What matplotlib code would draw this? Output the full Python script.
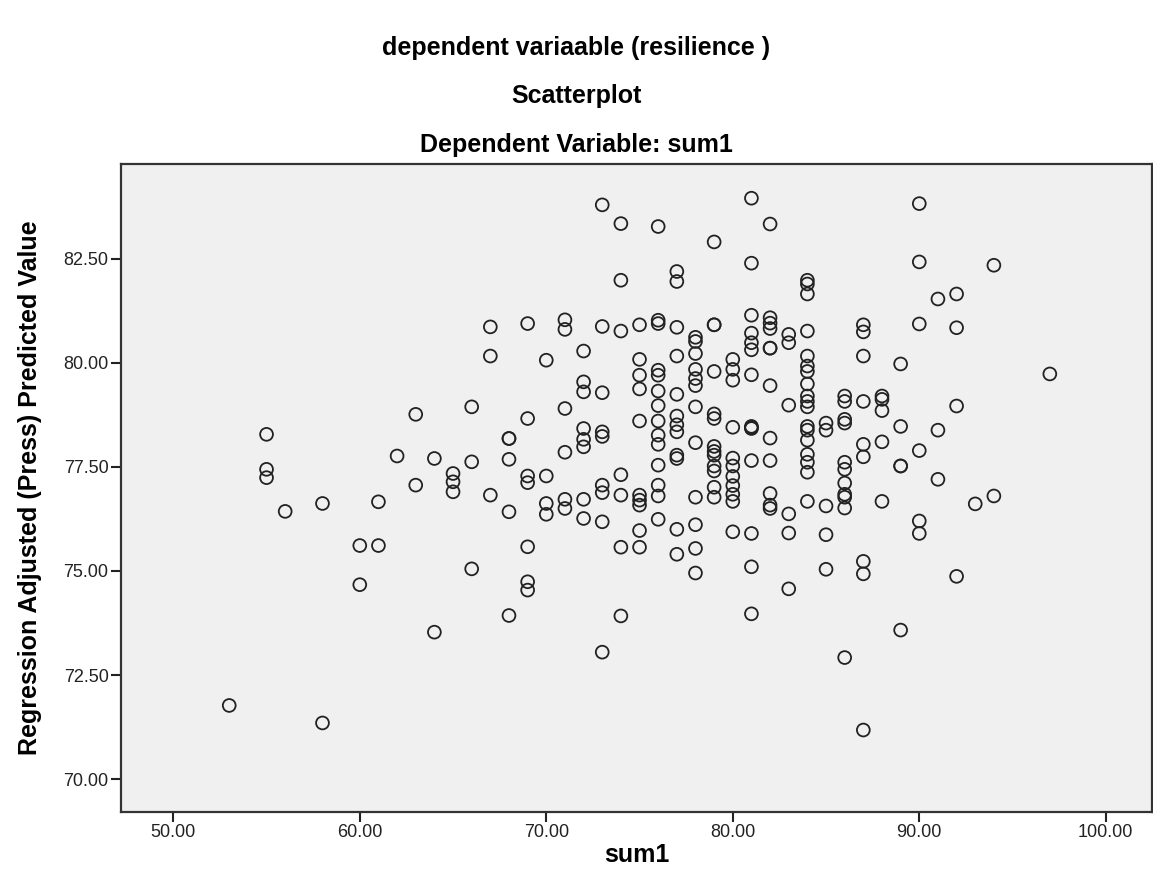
import matplotlib
matplotlib.use("Agg")
import matplotlib.pyplot as plt

plt.rcParams["font.family"] = ["Liberation Sans", "DejaVu Sans"]

# ===============================
# DATA (read off the reference scatterplot)
# ===============================

sum1 = (
    [53]
    + [55] * 3
    + [56]
    + [58] * 2
    + [60] * 2
    + [61] * 2
    + [62]
    + [63] * 2
    + [64] * 2
    + [65] * 3
    + [66] * 3
    + [67] * 3
    + [68] * 5
    + [69] * 7
    + [70] * 4
    + [71] * 6
    + [72] * 8
    + [73] * 9
    + [74] * 7
    + [75] * 10
    + [76] * 14
    + [77] * 12
    + [78] * 12
    + [79] * 13
    + [80] * 11
    + [81] * 14
    + [82] * 12
    + [83] * 6
    + [84] * 18
    + [85] * 5
    + [86] * 11
    + [87] * 9
    + [88] * 5
    + [89] * 5
    + [90] * 6
    + [91] * 3
    + [92] * 4
    + [93]
    + [94] * 2
    + [97]
)

press_pred = [
    71.77,
    78.28, 77.44, 77.24,
    76.43,
    76.62, 71.35,
    75.61, 74.67,
    76.66, 75.61,
    77.76,
    78.76, 77.06,
    77.70, 73.53,
    77.34, 77.14, 76.90,
    78.94, 77.62, 75.05,
    80.86, 80.16, 76.82,
    78.18, 78.18, 77.68, 76.42, 73.93,
    80.94, 78.66, 77.28, 77.12, 75.58, 74.74, 74.54,
    80.06, 77.28, 76.62, 76.36,
    81.03, 80.80, 78.90, 77.85, 76.72, 76.50,
    80.28, 79.54, 79.30, 78.42, 78.16, 77.98, 76.72, 76.26,
    83.79, 80.87, 79.28, 78.34, 78.23, 77.06, 76.88, 76.18, 73.05,
    83.34, 81.98, 80.76, 77.31, 76.82, 75.57, 73.92,
    80.91, 80.08, 79.70, 79.37, 78.60, 76.82, 76.70, 76.58, 75.97, 75.57,
    83.27, 81.02, 80.94, 79.82, 79.70, 79.32, 78.97, 78.60, 78.26, 78.04,
    77.54, 77.06, 76.80, 76.24,
    82.19, 81.95, 80.85, 80.16, 79.24, 78.72, 78.51, 78.34, 77.78, 77.70,
    76.00, 75.40,
    80.61, 80.51, 80.22, 79.84, 79.62, 79.45, 78.94, 78.08, 76.77, 76.11,
    75.54, 74.95,
    82.90, 80.91, 80.91, 79.79, 78.77, 78.66, 77.99, 77.87, 77.78, 77.52,
    77.40, 77.01, 76.77,
    80.08, 79.84, 79.58, 78.45, 77.71, 77.52, 77.27, 77.05, 76.84, 76.67,
    75.94,
    83.95, 82.39, 81.14, 80.71, 80.48, 80.31, 79.71, 78.47, 78.44, 78.42,
    77.65, 75.90, 75.10, 73.97,
    83.33, 81.08, 80.95, 80.82, 80.35, 80.35, 79.45, 78.19, 77.65, 76.86,
    76.58, 76.50,
    80.68, 80.48, 78.98, 76.37, 75.91, 74.57,
    81.98, 81.89, 81.65, 80.76, 80.16, 79.92, 79.79, 79.49, 79.20, 79.07,
    78.94, 78.47, 78.38, 78.14, 77.80, 77.61, 77.37, 76.67,
    78.55, 78.38, 76.56, 75.87, 75.04,
    79.20, 79.07, 78.64, 78.55, 77.61, 77.44, 77.11, 76.84, 76.77, 76.51,
    72.92,
    80.91, 80.74, 80.16, 79.07, 78.04, 77.74, 75.23, 74.93, 71.18,
    79.20, 79.12, 78.85, 78.10, 76.67,
    79.97, 78.47, 77.52, 77.52, 73.58,
    83.82, 82.42, 80.93, 77.89, 76.20, 75.90,
    81.53, 78.38, 77.20,
    81.65, 80.84, 78.96, 74.87,
    76.61,
    82.34, 76.80,
    79.73,
]

x_ticks = [50, 60, 70, 80, 90, 100]
y_ticks = [70.0, 72.5, 75.0, 77.5, 80.0, 82.5]

# ===============================
# PLOT
# ===============================

fig = plt.figure(figsize=(11.53, 8.89), dpi=100)
ax = fig.add_axes([0.105, 0.087, 0.894, 0.728])
ax.set_facecolor("#f0f0f0")

ax.scatter(sum1, press_pred, s=85, facecolors="none",
           edgecolors="#222222", linewidths=1.3, zorder=3)

ax.set_xlim(47.2, 102.47)
ax.set_ylim(69.22, 84.76)
ax.set_xticks(x_ticks)
ax.set_xticklabels([f"{v:.2f}" for v in x_ticks])
ax.set_yticks(y_ticks)
ax.set_yticklabels([f"{v:.2f}" for v in y_ticks])
ax.tick_params(direction="out", length=7, width=1.5, labelsize=13,
               colors="#222222", pad=2)

for sp in ax.spines.values():
    sp.set_linewidth(1.6)
    sp.set_color("#333333")

ax.set_xlabel("sum1", fontsize=18, fontweight="bold", va="center")
ax.xaxis.set_label_coords(0.5, (811.7 - 855) / 647.4)
ax.set_ylabel("Regression Adjusted (Press) Predicted Value",
              fontsize=18, fontweight="bold", va="center")
ax.yaxis.set_label_coords((30 - 121) / 1031, 0.5)

fig.text(0.5, 1 - 48 / 889, "dependent variaable (resilience )",
         ha="center", va="center", fontsize=18, fontweight="bold")
fig.text(0.5, 1 - 96 / 889, "Scatterplot",
         ha="center", va="center", fontsize=18, fontweight="bold")
fig.text(0.5, 1 - 145 / 889, "Dependent Variable: sum1",
         ha="center", va="center", fontsize=18, fontweight="bold")

fig.savefig("out.png", dpi=100)
